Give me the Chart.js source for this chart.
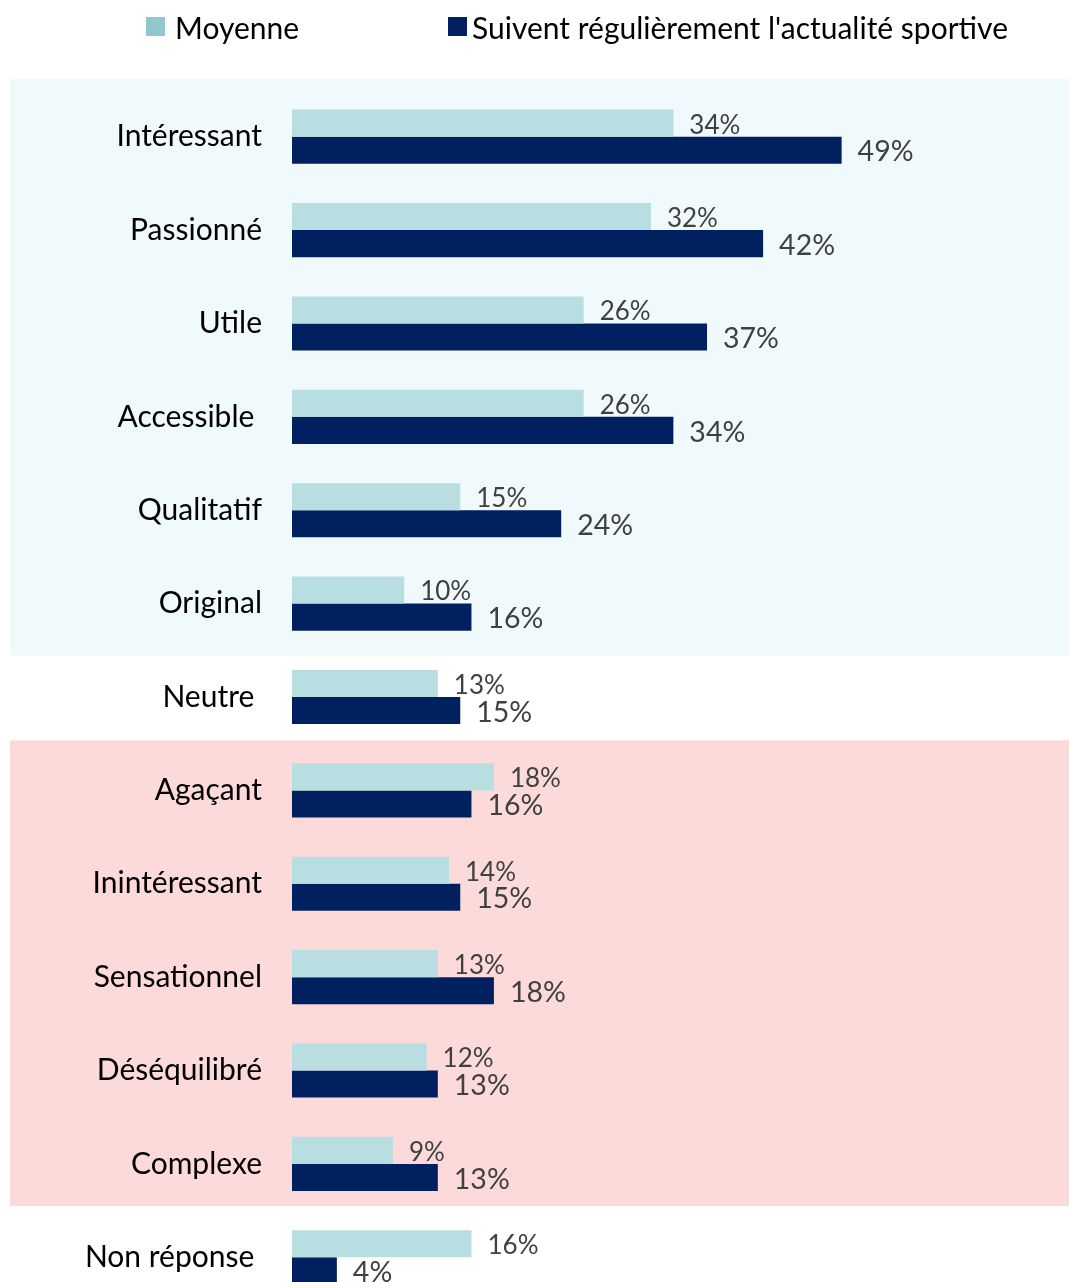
<!DOCTYPE html>
<html><head><meta charset="utf-8">
<script src="https://cdn.jsdelivr.net/npm/chart.js@4"></script>
<style>
html,body{margin:0;padding:0;background:#fff;overflow:hidden;width:1069px;height:1282px;}
#c{position:absolute;left:0;top:0;}
.lg{position:absolute;font-family:Lato,sans-serif;font-size:30px;color:#000;line-height:1;white-space:nowrap;}
.sw{position:absolute;width:19px;height:19px;}
</style></head>
<body>
<canvas id="c" width="1069" height="1352"></canvas>
<div class="sw" style="left:146px;top:17px;background:#8FC8CF"></div>
<div class="lg" style="left:175px;top:12px">Moyenne</div>
<div class="sw" style="left:448px;top:17px;background:#002060"></div>
<div class="lg" style="left:472px;top:12px">Suivent régulièrement l'actualité sportive</div>
<script>
const categories = ["Intéressant","Passionné","Utile","Accessible ","Qualitatif","Original","Neutre ","Agaçant","Inintéressant","Sensationnel","Déséquilibré","Complexe","Non réponse "];
const moyenne = [34,32,26,26,15,10,13,18,14,13,12,9,16];
const suivent = [49,42,37,34,24,16,15,16,15,18,13,13,4];
const seriesNames = ["Moyenne","Suivent régulièrement l'actualité sportive"];
const bandGroups = [[0,5],[7,11]];

const bandColors = ["#F0F9FB","#FDDADA"];
const bandPlugin = {
  id:'bands',
  beforeDraw(chart){
    const y = chart.scales.y, ctx = chart.ctx;
    const offs = [[58,52],[50,42]];
    ctx.save();
    bandGroups.forEach((g,i)=>{
      const top = y.getPixelForValue(g[0]) - offs[i][0];
      const bot = y.getPixelForValue(g[1]) + offs[i][1];
      ctx.fillStyle = bandColors[i];
      ctx.fillRect(10, top, chart.width-10, bot-top);
    });
    ctx.restore();
  }
};
const labelPlugin = {
  id:'vals',
  afterDatasetsDraw(chart){
    const ctx = chart.ctx;
    ctx.save();
    ctx.fillStyle = '#404040';
    ctx.textAlign = 'left';
    ctx.textBaseline = 'middle';
    chart.data.datasets.forEach((ds,di)=>{
      const meta = chart.getDatasetMeta(di);
      ctx.font = (di===0 ? '26px' : '28.5px') + ' Lato, sans-serif';
      meta.data.forEach((bar,i)=>{
        const dy = di===0 ? 2 : 2;
        ctx.fillText(ds.data[i] + '%', bar.x + 16, bar.y + dy);
      });
    });
    ctx.restore();
  }
};

new Chart(document.getElementById('c'), {
  type:'bar',
  data:{
    labels:categories,
    datasets:[
      {label:seriesNames[0], data:moyenne, backgroundColor:'#B9DEE2', categoryPercentage:0.58, barPercentage:1},
      {label:seriesNames[1], data:suivent, backgroundColor:'#002060', categoryPercentage:0.58, barPercentage:1}
    ]
  },
  options:{
    indexAxis:'y',
    responsive:false,
    animation:false,
    layout:{padding:{left:0,right:104,top:90,bottom:0}},
    plugins:{legend:{display:false},tooltip:{enabled:false}},
    scales:{
      x:{display:false,min:0,max:60},
      y:{
        grid:{display:false,drawTicks:false},
        border:{display:false},
        ticks:{color:'#000',padding:30,font:{family:'Lato, sans-serif',size:30}},
        afterFit(s){ s.width = 292; }
      }
    }
  },
  plugins:[bandPlugin,labelPlugin]
});
</script>
</body></html>
